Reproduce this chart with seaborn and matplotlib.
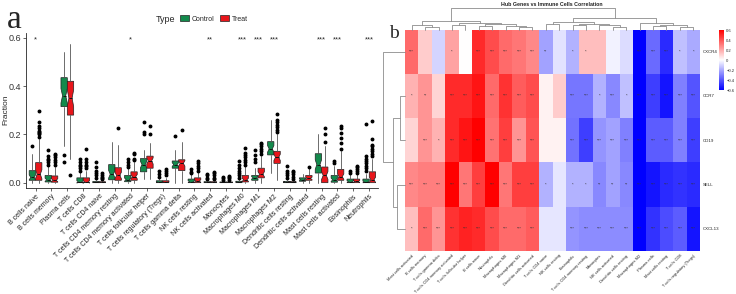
import numpy as np
import pandas as pd
import matplotlib
matplotlib.use("Agg")
import matplotlib.pyplot as plt
import seaborn as sns
from matplotlib.colors import LinearSegmentedColormap
from matplotlib.patches import Patch

sns.set_style("ticks")
plt.rcParams["font.family"] = ["Liberation Sans", "DejaVu Sans"]

# ---------------- panel a: immune cell fractions ----------------
cell_types = ["B cells naive", "B cells memory", "Plasma cells", "T cells CD8",
              "T cells CD4 naive", "T cells CD4 memory resting",
              "T cells CD4 memory activated", "T cells follicular helper",
              "T cells regulatory (Tregs)", "T cells gamma delta", "NK cells resting",
              "NK cells activated", "Monocytes", "Macrophages M0", "Macrophages M1",
              "Macrophages M2", "Dendritic cells resting", "Dendritic cells activated",
              "Mast cells resting", "Mast cells activated", "Eosinophils", "Neutrophils"]
signif = ["*", "", "", "", "", "", "*", "", "", "", "", "**", "", "***", "***", "***",
          "", "", "***", "***", "", "***"]

ctrl_lo = [0, 0, 0.15, 0, 0, 0, 0, 0.015, 0, 0, 0, 0, 0, 0, 0, 0.04, 0, 0, 0, 0, 0, 0]
ctrl_q1 = [0.01, 0.003, 0.315, 0, 0, 0.012, 0.004, 0.045, 0, 0.06, 0, 0, 0, 0, 0.01,
           0.115, 0, 0.006, 0.04, 0.002, 0, 0]
ctrl_med = [0.022, 0.012, 0.36, 0.003, 0.001, 0.035, 0.013, 0.075, 0.002, 0.075, 0.004,
            0.001, 0.001, 0.002, 0.02, 0.14, 0.002, 0.012, 0.075, 0.012, 0.004, 0.003]
ctrl_q3 = [0.05, 0.03, 0.435, 0.02, 0.005, 0.075, 0.03, 0.1, 0.008, 0.09, 0.015, 0.004,
           0.003, 0.006, 0.03, 0.17, 0.005, 0.02, 0.12, 0.03, 0.015, 0.015]
ctrl_hi = [0.12, 0.07, 0.54, 0.045, 0.012, 0.17, 0.06, 0.135, 0.02, 0.135, 0.035, 0.01,
           0.008, 0.015, 0.06, 0.26, 0.012, 0.035, 0.2, 0.07, 0.035, 0.035]
ctrl_out = [[0.15], [0.075, 0.085, 0.095, 0.1, 0.11, 0.135], [0.115, 0.085],
            [0.05, 0.06, 0.07, 0.075, 0.085, 0.1], [0.02, 0.03, 0.04, 0.05, 0.065, 0.085],
            [], [0.065, 0.075, 0.085, 0.1], [0.2, 0.21, 0.25], [0.025, 0.035, 0.05],
            [0.195], [0.04, 0.045, 0.055], [0.015, 0.02, 0.03, 0.035],
            [0.012, 0.018, 0.025], [0.02, 0.03, 0.04, 0.05, 0.06, 0.075, 0.09],
            [0.085, 0.1, 0.115, 0.135], [], [0.02, 0.03, 0.04, 0.05, 0.07], [],
            [], [0.08, 0.09], [0.04, 0.048],
            [0.05, 0.06, 0.07, 0.08, 0.09, 0.1, 0.11, 0.245]]

treat_lo = [0, 0, 0.1, 0, 0, 0, 0, 0.015, 0, 0, 0, 0, 0, 0, 0, 0.01, 0, 0, 0, 0, 0, 0]
treat_q1 = [0.01, 0.002, 0.28, 0, 0, 0.01, 0.01, 0.06, 0, 0.05, 0, 0, 0, 0.003, 0.02,
            0.08, 0, 0.01, 0, 0.01, 0, 0]
treat_med = [0.035, 0.01, 0.35, 0.003, 0.001, 0.03, 0.025, 0.09, 0.002, 0.08, 0.007,
             0.001, 0.001, 0.012, 0.035, 0.105, 0.002, 0.018, 0.03, 0.025, 0.005, 0.012]
treat_q3 = [0.083, 0.028, 0.42, 0.02, 0.004, 0.062, 0.045, 0.11, 0.008, 0.095, 0.02,
            0.004, 0.003, 0.03, 0.06, 0.13, 0.004, 0.03, 0.065, 0.055, 0.015, 0.045]
treat_hi = [0.18, 0.065, 0.575, 0.05, 0.01, 0.155, 0.085, 0.165, 0.02, 0.17, 0.045, 0.01,
            0.008, 0.07, 0.11, 0.2, 0.01, 0.06, 0.15, 0.13, 0.035, 0.1]
treat_out = [[0.19, 0.2, 0.205, 0.21, 0.215, 0.225, 0.235, 0.25, 0.295],
             [0.075, 0.085, 0.095, 0.105, 0.115, 0.12], [0.03],
             [0.06, 0.07, 0.075, 0.085, 0.1, 0.14], [0.015, 0.02, 0.025, 0.03, 0.04],
             [0.225], [0.095, 0.1, 0.12, 0.125], [0.2, 0.235],
             [0.03, 0.04, 0.05, 0.055], [0.22], [0.05, 0.06, 0.07, 0.08, 0.09],
             [0.015, 0.02, 0.03, 0.04, 0.045], [0.012, 0.018, 0.025, 0.028],
             [0.075, 0.085, 0.095, 0.105, 0.115, 0.125, 0.145],
             [0.12, 0.13, 0.14, 0.15, 0.16, 0.165],
             [0.21, 0.22, 0.23, 0.24, 0.25, 0.26, 0.285],
             [0.015, 0.025, 0.035, 0.045, 0.05], [0.065],
             [0.17, 0.2, 0.225], [0.14, 0.165, 0.185, 0.205, 0.225, 0.235],
             [0.04, 0.05, 0.055, 0.065, 0.07],
             [0.11, 0.12, 0.13, 0.14, 0.15, 0.155, 0.18, 0.255]]
n_samples = 40

# ---------------- panel b: correlation heatmap ----------------
genes = ["CXCR4", "CCR7", "CD19", "SELL", "CXCL13"]
heat_cells = ["Mast cells activated", "B cells memory", "T cells gamma delta",
              "T cells CD4 memory activated", "T cells follicular helper", "B cells naive",
              "Neutrophils", "Macrophages M0", "Macrophages M1", "Dendritic cells activated",
              "T cells CD4 naive", "NK cells resting", "Eosinophils",
              "T cells CD4 memory resting", "Monocytes", "NK cells activated",
              "Dendritic cells resting", "Macrophages M2", "Plasma cells",
              "Mast cells resting", "T cells CD8", "T cells regulatory (Tregs)"]
r_cxcr4 = [0.35, 0.12, -0.1, 0.22, 0.0, 0.5, 0.42, 0.35, 0.32, 0.28, -0.22, -0.07,
           -0.18, 0.15, 0.15, -0.03, -0.08, -0.6, -0.35, -0.5, -0.15, -0.2]
r_ccr7 = [0.18, 0.25, 0.1, 0.5, 0.5, 0.55, 0.35, 0.48, 0.38, 0.42, 0.03, 0.12, -0.32,
          -0.32, -0.18, -0.28, -0.15, -0.6, -0.45, -0.55, -0.3, -0.4]
r_cd19 = [0.1, 0.25, 0.18, 0.5, 0.55, 0.6, 0.33, 0.45, 0.25, 0.4, 0.03, 0.03, -0.33,
          -0.45, -0.25, -0.22, -0.3, -0.6, -0.38, -0.38, -0.3, -0.45]
r_sell = [0.28, 0.3, 0.3, 0.6, 0.32, 0.45, 0.6, 0.32, 0.45, 0.45, -0.18, -0.06, -0.18,
          -0.18, -0.28, -0.22, -0.28, -0.6, -0.55, -0.5, -0.48, -0.5]
r_cxcl13 = [0.15, 0.35, 0.25, 0.48, 0.52, 0.5, 0.42, 0.35, 0.35, 0.38, -0.06, -0.06,
            -0.25, -0.27, -0.27, -0.27, -0.27, -0.6, -0.48, -0.42, -0.38, -0.55]
s_cxcr4 = ["***", "", "", "*", "", "***", "***", "***", "***", "***", "**", "", "*", "*",
           "", "", "", "***", "***", "***", "*", "*"]
s_ccr7 = ["*", "**", "", "***", "***", "***", "***", "***", "***", "***", "", "", "***",
          "***", "*", "***", "*", "***", "***", "***", "***", "***"]
s_cd19 = ["", "***", "*", "***", "***", "***", "***", "***", "***", "***", "", "", "***",
          "***", "***", "***", "***", "***", "***", "***", "***", "***"]
s_sell = ["***", "***", "***", "***", "***", "***", "***", "***", "***", "***", "*", "",
          "*", "*", "**", "**", "**", "***", "***", "***", "***", "***"]
s_cxcl13 = ["*", "***", "***", "***", "***", "***", "***", "***", "***", "***", "", "",
            "***", "***", "***", "***", "***", "***", "***", "***", "***", "***"]

# dendrogram merges: (child a, child b, height); ids >= n are earlier merges
col_links = [(1, 2, 0.12), (0, 22, 0.22), (3, 4, 0.2), (5, 6, 0.15), (8, 9, 0.1),
             (7, 26, 0.18), (25, 27, 0.25), (24, 28, 0.32), (23, 29, 0.42),
             (10, 11, 0.25), (12, 13, 0.2), (15, 16, 0.12), (14, 33, 0.2), (32, 34, 0.28),
             (31, 35, 0.36), (18, 19, 0.15), (20, 21, 0.12), (37, 38, 0.22),
             (17, 39, 0.3), (36, 40, 0.56), (30, 41, 1.0)]
row_links = [(1, 2, 0.23), (3, 4, 0.38), (5, 6, 0.56), (0, 7, 1.0)]

green = "#138A4C"
red = "#E8161B"

W, H = 736, 294
fig = plt.figure(figsize=(W / 100, H / 100), dpi=100)


def fbox(x0, y0, x1, y1):
    return [x0 / W, 1 - y1 / H, (x1 - x0) / W, (y1 - y0) / H]


# ---- panel a ----
ax = fig.add_axes(fbox(26, 33, 378, 188))


def make_stats(lo, q1, med, q3, hi, out):
    res = []
    for i in range(len(med)):
        half = 1.58 * (q3[i] - q1[i]) / np.sqrt(n_samples)
        res.append(dict(whislo=lo[i], q1=q1[i], med=med[i], q3=q3[i], whishi=hi[i],
                        fliers=out[i], cilo=med[i] - half, cihi=med[i] + half))
    return res


pos = np.arange(len(cell_types))
for stats, off, col in [(make_stats(ctrl_lo, ctrl_q1, ctrl_med, ctrl_q3, ctrl_hi, ctrl_out), -0.2, green),
                        (make_stats(treat_lo, treat_q1, treat_med, treat_q3, treat_hi, treat_out), 0.2, red)]:
    ax.bxp(stats, positions=pos + off, widths=0.4, shownotches=True, patch_artist=True,
           showcaps=False,
           boxprops=dict(facecolor=col, edgecolor="#222222", linewidth=0.5),
           medianprops=dict(color="#111111", linewidth=0.7),
           whiskerprops=dict(color="#555555", linewidth=0.6),
           flierprops=dict(marker="o", markersize=1.8, markerfacecolor="black",
                           markeredgecolor="black", linestyle="none"))

for i, s in enumerate(signif):
    if s:
        ax.text(i, 0.592, s, ha="center", va="center", fontsize=5.5)

ax.set_xlim(-0.6, len(cell_types) - 0.45)
ax.set_ylim(-0.022, 0.62)
ax.set_yticks([0, 0.2, 0.4, 0.6])
ax.set_yticklabels(["0.0", "0.2", "0.4", "0.6"], fontsize=6.5, color="#333333")
ax.set_xticks(pos)
ax.set_xticklabels(cell_types, rotation=45, ha="right", rotation_mode="anchor",
                   fontsize=5, color="#222222")
ax.tick_params(length=2, width=0.5, pad=1.5)
sns.despine(ax=ax)
for sp in ["left", "bottom"]:
    ax.spines[sp].set_linewidth(0.6)
fig.text(6 / W, 1 - 110 / H, "Fraction", rotation=90, fontsize=6, ha="center",
         va="center")

fig.text(165 / W, 1 - 19 / H, "Type", fontsize=6.5, ha="center", va="center")
fig.legend(handles=[Patch(facecolor=green, edgecolor="#222222", lw=0.5, label="Control"),
                    Patch(facecolor=red, edgecolor="#222222", lw=0.5, label="Treat")],
           loc="center", bbox_to_anchor=(214 / W, 1 - 19 / H), ncol=2, frameon=False,
           fontsize=5, handlelength=1.3, handleheight=1.0, handletextpad=0.4,
           columnspacing=0.8, borderpad=0)
fig.text(14 / W, 1 - 20 / H, "a", fontsize=24, family="Liberation Serif",
         ha="center", va="center")

# ---- panel b ----
corr = pd.DataFrame([r_cxcr4, r_ccr7, r_cd19, r_sell, r_cxcl13], index=genes,
                    columns=heat_cells)
stars = np.array([s_cxcr4, s_ccr7, s_cd19, s_sell, s_cxcl13])
cmap = LinearSegmentedColormap.from_list("bwr2", ["#0000FF", "#FFFFFF", "#FF0000"])

axh = fig.add_axes(fbox(405, 29.5, 700, 251))
cax = fig.add_axes(fbox(719, 30, 723.5, 90))
sns.heatmap(corr, ax=axh, cmap=cmap, vmin=-0.6, vmax=0.6, annot=stars, fmt="",
            annot_kws=dict(size=3, color="#333333"), cbar_ax=cax,
            xticklabels=True, yticklabels=True)
axh.yaxis.tick_right()
axh.set_yticklabels(genes, rotation=0, fontsize=3.2, color="#222222")
axh.set_xticklabels(heat_cells, rotation=45, ha="right", rotation_mode="anchor",
                    fontsize=2.9, color="#222222")
axh.tick_params(length=0, pad=2)
axh.set_xlabel("")
axh.set_ylabel("")

cax.set_yticks([0.6, 0.4, 0.2, 0, -0.2, -0.4, -0.6])
cax.set_yticklabels(["0.6", "0.4", "0.2", "0", "\u22120.2", "\u22120.4", "\u22120.6"])
cax.tick_params(labelsize=3, length=0, pad=2)
for sp in cax.spines.values():
    sp.set_visible(False)


def draw_tree(tax, links, n, vertical):
    xpos = {i: i + 0.5 for i in range(n)}
    hgt = {i: 0.0 for i in range(n)}
    for k, (a, b, h) in enumerate(links):
        xs = [xpos[a], xpos[a], xpos[b], xpos[b]]
        ys = [hgt[a], h, h, hgt[b]]
        if vertical:
            tax.plot(xs, ys, color="#8c8c8c", lw=0.6, clip_on=False)
        else:
            tax.plot(ys, xs, color="#8c8c8c", lw=0.6, clip_on=False)
        xpos[n + k] = (xpos[a] + xpos[b]) / 2
        hgt[n + k] = h


axt = fig.add_axes(fbox(405, 8.3, 700, 29.5))
draw_tree(axt, col_links, len(heat_cells), True)
axt.set_xlim(0, len(heat_cells))
axt.set_ylim(0, 1)
axt.axis("off")

axl = fig.add_axes(fbox(383, 29.5, 405, 251))
draw_tree(axl, row_links, len(genes), False)
axl.set_xlim(1, 0)
axl.set_ylim(len(genes), 0)
axl.axis("off")

fig.text(552 / W, 1 - 4.5 / H, "Hub Genes vs Immune Cells Correlation", fontsize=3.8,
         fontweight="bold", ha="center", va="center", color="#222222")
fig.text(394 / W, 1 - 34 / H, "b", fontsize=14, family="Liberation Serif",
         ha="center", va="center")

fig.savefig("out.png", dpi=100)
